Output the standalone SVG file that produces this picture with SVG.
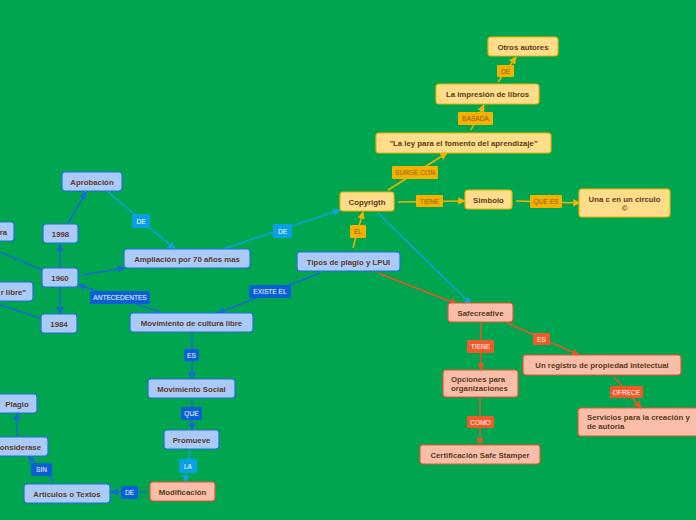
<svg xmlns="http://www.w3.org/2000/svg" width="696" height="520" viewBox="0 0 696 520">
<defs>
<style>
.nb{fill:#aacbfa;stroke:#1f6fd8;stroke-width:1.2}
.ny{fill:#ffdd8a;stroke:#f0b000;stroke-width:1.2}
.ns{fill:#f9bea9;stroke:#e8552a;stroke-width:1.2}
.t{font-family:"Liberation Sans",Arial,sans-serif;font-weight:bold;font-size:7.8px;fill:#5a3a1a;text-anchor:middle}
.tl{text-anchor:start}
.lb{fill:#0a5fd6}
.ll{fill:#0aa0e6}
.ly{fill:#f5b000}
.ls{fill:#f05a28}
.lt{font-family:"Liberation Sans",Arial,sans-serif;font-size:6.6px;fill:#ffffff;text-anchor:middle}
.lty{font-family:"Liberation Sans",Arial,sans-serif;font-size:6.6px;fill:#8a5a1a;text-anchor:middle}
.cb{stroke:#1a66d6;stroke-width:1.5;fill:none}
.cl{stroke:#14a0e6;stroke-width:1.5;fill:none}
.cy{stroke:#f5b000;stroke-width:1.5;fill:none}
.cs{stroke:#e8552a;stroke-width:1.5;fill:none}
</style>
<marker id="ab" viewBox="0 0 10 10" refX="9" refY="5" markerWidth="5" markerHeight="5" orient="auto"><path d="M0,0L10,5L0,10z" fill="#1a66d6"/></marker>
<marker id="al" viewBox="0 0 10 10" refX="9" refY="5" markerWidth="5" markerHeight="5" orient="auto"><path d="M0,0L10,5L0,10z" fill="#14a0e6"/></marker>
<marker id="ay" viewBox="0 0 10 10" refX="9" refY="5" markerWidth="5" markerHeight="5" orient="auto"><path d="M0,0L10,5L0,10z" fill="#f5b000"/></marker>
<marker id="as" viewBox="0 0 10 10" refX="9" refY="5" markerWidth="5" markerHeight="5" orient="auto"><path d="M0,0L10,5L0,10z" fill="#e8552a"/></marker>
</defs>
<rect x="0" y="0" width="696" height="520" fill="#00a550"/>

<g id="connectors">
<line class="cb" x1="0" y1="252" x2="42" y2="270"/>
<line class="cb" x1="0" y1="305" x2="40" y2="318"/>
<line class="cb" x1="60" y1="268" x2="60" y2="244" marker-end="url(#ab)"/>
<line class="cb" x1="68" y1="223" x2="86" y2="192" marker-end="url(#ab)"/>
<line class="cb" x1="60" y1="287" x2="60" y2="314" marker-end="url(#ab)"/>
<line class="cb" x1="82" y1="275" x2="124" y2="268" marker-end="url(#ab)"/>
<line class="cb" x1="160" y1="312" x2="79" y2="285" marker-end="url(#ab)"/>
<line class="cl" x1="107" y1="191" x2="175" y2="249" marker-end="url(#al)"/>
<line class="cl" x1="223" y1="249" x2="340" y2="210" marker-end="url(#al)"/>
<line class="cb" x1="320" y1="273" x2="218" y2="313" marker-end="url(#ab)"/>
<line class="cb" x1="192" y1="333" x2="192" y2="379" marker-end="url(#ab)"/>
<line class="cb" x1="192" y1="399" x2="192" y2="430" marker-end="url(#ab)"/>
<line class="cl" x1="190" y1="450" x2="185" y2="482" marker-end="url(#al)"/>
<line class="cb" x1="147" y1="492" x2="111" y2="492" marker-end="url(#ab)"/>
<line class="cb" x1="54" y1="481" x2="28" y2="456" marker-end="url(#ab)"/>
<line class="cb" x1="17" y1="436" x2="17" y2="413" marker-end="url(#ab)"/>
<line class="cl" x1="378" y1="213" x2="471" y2="304" marker-end="url(#al)"/>
<line class="cy" x1="353" y1="248" x2="363" y2="212" marker-end="url(#ay)"/>
<line class="cy" x1="388" y1="190" x2="447" y2="153" marker-end="url(#ay)"/>
<line class="cy" x1="471" y1="130" x2="484" y2="105" marker-end="url(#ay)"/>
<line class="cy" x1="498" y1="82" x2="516" y2="57" marker-end="url(#ay)"/>
<line class="cy" x1="398" y1="202" x2="465" y2="201" marker-end="url(#ay)"/>
<line class="cy" x1="516" y1="201" x2="580" y2="203" marker-end="url(#ay)"/>
<line class="cs" x1="378" y1="273" x2="457" y2="304" marker-end="url(#as)"/>
<line class="cs" x1="481" y1="323" x2="481" y2="370" marker-end="url(#as)"/>
<line class="cs" x1="507" y1="323" x2="579" y2="355" marker-end="url(#as)"/>
<line class="cs" x1="480" y1="398" x2="480" y2="445" marker-end="url(#as)"/>
<line class="cs" x1="614" y1="377" x2="641" y2="408" marker-end="url(#as)"/>

<rect class="ll" x="132" y="214" width="18" height="14" rx="1"/><text class="lt" x="141" y="223.5">DE</text>
<rect class="ll" x="273" y="224" width="19" height="14" rx="1"/><text class="lt" x="282.5" y="233.5">DE</text>
<rect class="lb" x="90" y="291" width="60" height="13" rx="1"/><text class="lt" x="120" y="300">ANTECEDENTES</text>
<rect class="lb" x="249" y="285" width="42" height="13" rx="1"/><text class="lt" x="270" y="294">EXISTE EL</text>
<rect class="lb" x="184" y="349" width="15" height="12" rx="1"/><text class="lt" x="191.5" y="357.5">ES</text>
<rect class="lb" x="181" y="407" width="21" height="13" rx="1"/><text class="lt" x="191.5" y="416">QUE</text>
<rect class="ll" x="179" y="459" width="18" height="14" rx="1"/><text class="lt" x="188" y="468.5">LA</text>
<rect class="lb" x="121" y="486" width="17" height="13" rx="1"/><text class="lt" x="129.5" y="495">DE</text>
<rect class="lb" x="31" y="463" width="21" height="13" rx="1"/><text class="lt" x="41.5" y="472">SIN</text>
<rect class="ly" x="350" y="225" width="16" height="13" rx="1"/><text class="lty" x="358" y="234">EL</text>
<rect class="ly" x="392" y="166" width="46" height="13" rx="1"/><text class="lty" x="415" y="175">SURGE CON</text>
<rect class="ly" x="458" y="112" width="35" height="13" rx="1"/><text class="lty" x="475.5" y="121">BASADA</text>
<rect class="ly" x="497" y="65" width="17" height="12" rx="1"/><text class="lty" x="505.5" y="73.5">DE</text>
<rect class="ly" x="416" y="195" width="27" height="12" rx="1"/><text class="lty" x="429.5" y="203.5">TIENE</text>
<rect class="ly" x="530" y="195" width="32" height="13" rx="1"/><text class="lty" x="546" y="204">QUE ES</text>
<rect class="ls" x="467" y="340" width="27" height="13" rx="1"/><text class="lt" x="480.5" y="349">TIENE</text>
<rect class="ls" x="533" y="333" width="17" height="12" rx="1"/><text class="lt" x="541.5" y="341.5">ES</text>
<rect class="ls" x="467" y="416" width="27" height="12" rx="1"/><text class="lt" x="480.5" y="424.5">COMO</text>
<rect class="ls" x="610" y="386" width="33" height="12" rx="1"/><text class="lt" x="626.5" y="394.5">OFRECE</text>
</g>

<g id="n-ra"><rect class="nb" x="-40" y="222" width="54" height="19" rx="3"/><text class="t" x="7" y="234.5" style="text-anchor:end">ra</text></g>
<g id="n-libre"><rect class="nb" x="-40" y="282" width="73" height="19" rx="3"/><text class="t" x="26" y="294.5" style="text-anchor:end">r libre"</text></g>
<g id="n-aprobacion"><rect class="nb" x="62" y="172" width="60" height="19" rx="3"/><text class="t" x="92" y="184.5">Aprobación</text></g>
<g id="n-1998"><rect class="nb" x="43" y="224" width="35" height="19" rx="3"/><text class="t" x="60.5" y="236.5">1998</text></g>
<g id="n-1960"><rect class="nb" x="42" y="268" width="36" height="19" rx="3"/><text class="t" x="60" y="280.5">1960</text></g>
<g id="n-1984"><rect class="nb" x="41" y="314" width="36" height="19" rx="3"/><text class="t" x="59" y="326.5">1984</text></g>
<g id="n-ampliacion"><rect class="nb" x="124" y="249" width="126" height="19" rx="3"/><text class="t" x="187" y="261.5">Ampliación por 70 años mas</text></g>
<g id="n-movcultura"><rect class="nb" x="130" y="313" width="123" height="19" rx="3"/><text class="t" x="191.5" y="325.5">Movimiento de cultura libre</text></g>
<g id="n-tipos"><rect class="nb" x="297" y="252" width="103" height="19" rx="3"/><text class="t" x="348.5" y="264.5">Tipos de plagio y LPUI</text></g>
<g id="n-movsocial"><rect class="nb" x="148" y="379" width="87" height="19" rx="3"/><text class="t" x="191.5" y="391.5">Movimiento Social</text></g>
<g id="n-promueve"><rect class="nb" x="164" y="430" width="55" height="19" rx="3"/><text class="t" x="191.5" y="442.5">Promueve</text></g>
<g id="n-plagio"><rect class="nb" x="-3" y="394" width="40" height="19" rx="3"/><text class="t" x="17" y="406.5">Plagio</text></g>
<g id="n-considerase"><rect class="nb" x="-40" y="437" width="88" height="19" rx="3"/><text class="t" x="41" y="449.5" style="text-anchor:end">onsiderase</text></g>
<g id="n-articulos"><rect class="nb" x="24" y="484" width="86" height="19" rx="3"/><text class="t" x="67" y="496.5">Articulos o Textos</text></g>
<g id="n-modificacion"><rect class="ns" x="150" y="482" width="65" height="19" rx="3"/><text class="t" x="182.5" y="494.5">Modificación</text></g>

<g id="n-copyrigth"><rect class="ny" x="340" y="192" width="54" height="19" rx="3"/><text class="t" x="367" y="204.5">Copyrigth</text></g>
<g id="n-ley"><rect class="ny" x="376" y="133" width="175" height="20" rx="3"/><text class="t" x="463.5" y="145.5">"La ley para el fomento del aprendizaje"</text></g>
<g id="n-impresion"><rect class="ny" x="436" y="84" width="103" height="20" rx="3"/><text class="t" x="487.5" y="96.5">La impresión de libros</text></g>
<g id="n-otros"><rect class="ny" x="488" y="37" width="70" height="19" rx="3"/><text class="t" x="523" y="49.5">Otros autores</text></g>
<g id="n-simbolo"><rect class="ny" x="465" y="190" width="47" height="19" rx="3"/><text class="t" x="488.5" y="202.5">Simbolo</text></g>
<g id="n-unac"><rect class="ny" x="579" y="189" width="91" height="28" rx="3"/><text class="t" x="624.5" y="201.5">Una c en un circulo</text><text class="t" x="624.5" y="210.5">©</text></g>

<g id="n-safecreative"><rect class="ns" x="448" y="303" width="65" height="19" rx="3"/><text class="t" x="480.5" y="315.5">Safecreative</text></g>
<g id="n-opciones"><rect class="ns" x="443" y="370" width="75" height="27" rx="3"/><text class="t tl" x="451" y="381.5">Opciones para</text><text class="t tl" x="451" y="390.5">organizaciones</text></g>
<g id="n-registro"><rect class="ns" x="523" y="355" width="158" height="20" rx="3"/><text class="t" x="602" y="367.5">Un registro de propiedad intelectual</text></g>
<g id="n-servicios"><rect class="ns" x="578" y="408" width="130" height="28" rx="3"/><text class="t tl" x="587" y="420">Servicios para la creación y</text><text class="t tl" x="587" y="429">de autoría</text></g>
<g id="n-certificacion"><rect class="ns" x="420" y="445" width="120" height="19" rx="3"/><text class="t" x="480" y="457.5">Certificación Safe Stamper</text></g>
</svg>
